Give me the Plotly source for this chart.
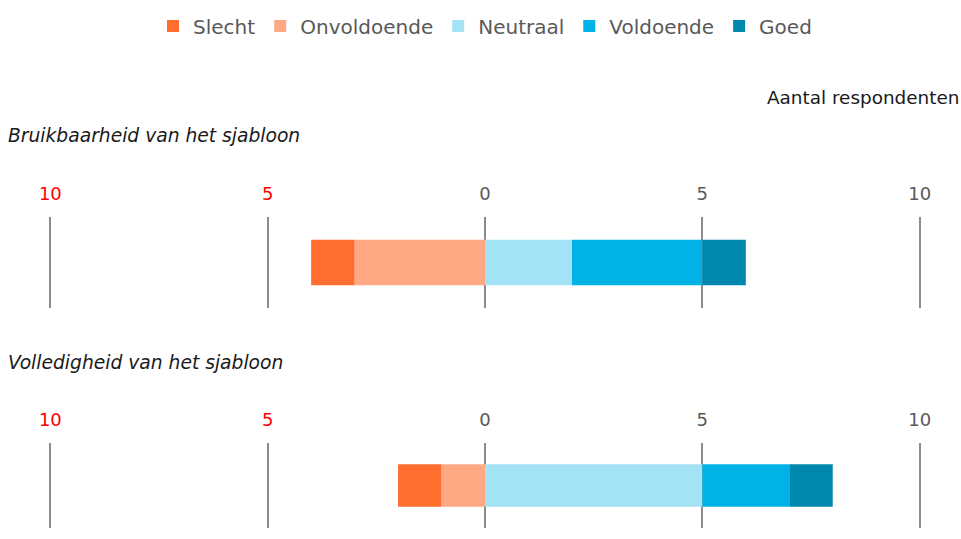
import plotly.graph_objects as go
from plotly.subplots import make_subplots

# data
questions = ["Bruikbaarheid van het sjabloon", "Volledigheid van het sjabloon"]
slecht = [1, 1]
onvoldoende = [3, 1]
neutraal = [2, 5]
voldoende = [3, 2]
goed = [1, 1]

tick_vals = [-10, -5, 0, 5, 10]
tick_text = ['<span style="color:#ff0000">10</span>', '<span style="color:#ff0000">5</span>', '0', '5', '10']

colors = {
    'Slecht': '#ff6d2f',
    'Onvoldoende': '#ffa884',
    'Neutraal': '#a4e3f5',
    'Voldoende': '#00b2e5',
    'Goed': '#0087ad',
}

FONT = 'Verdana, DejaVu Sans, sans-serif'
W, H = 961, 539
ML, MR = 46, 37

fig = make_subplots(rows=2, cols=1)

for i, q in enumerate(questions):
    row = i + 1
    # negative side: first trace sits next to zero
    series = [
        ('Onvoldoende', -onvoldoende[i], 2),
        ('Slecht', -slecht[i], 1),
        ('Neutraal', neutraal[i], 3),
        ('Voldoende', voldoende[i], 4),
        ('Goed', goed[i], 5),
    ]
    for name, val, rank in series:
        fig.add_trace(go.Bar(
            x=[val], y=[q], orientation='h', name=name,
            marker=dict(color=colors[name], line=dict(width=0)),
            width=0.5, legendrank=rank, legendgroup=name,
            showlegend=(i == 0), hoverinfo='skip',
        ), row=row, col=1)

fig.update_layout(
    width=W, height=H,
    barmode='relative',
    plot_bgcolor='white', paper_bgcolor='white',
    margin=dict(l=ML, r=MR, t=0, b=0, autoexpand=False),
    font=dict(family=FONT, size=18, color='#595959'),
    legend=dict(orientation='h', x=0.5, xanchor='center', y=1 - 26 / H, yanchor='middle',
                font=dict(size=20, color='#595959'), traceorder='normal'),
)

fig.update_xaxes(
    range=[-10.1, 10.1], side='top', tickvals=tick_vals, ticktext=tick_text,
    showgrid=True, gridcolor='#8c8c8c', gridwidth=2,
    zeroline=True, zerolinecolor='#8c8c8c', zerolinewidth=2,
    showline=False, ticks='outside', ticklen=9, tickcolor='rgba(0,0,0,0)',
    tickfont=dict(size=18, color='#595959'), fixedrange=True, automargin=False,
)
fig.update_yaxes(visible=False, range=[-0.5, 0.5], automargin=False)
fig.update_layout(
    yaxis=dict(domain=[1 - 308 / H, 1 - 217 / H]),
    yaxis2=dict(domain=[1 - 528 / H, 1 - 443 / H]),
)


def px(x):
    return (x - ML) / (W - ML - MR)


fig.add_annotation(text='Aantal respondenten', xref='paper', yref='paper', x=px(961), y=1 - 97 / H,
                   xanchor='right', yanchor='middle', showarrow=False,
                   font=dict(family=FONT, size=18.4, color='#1a1a1a'))
title_y = [1 - 136 / H, 1 - 362 / H]
for q, ty in zip(questions, title_y):
    fig.add_annotation(text='<i>' + q + '</i>', xref='paper', yref='paper', x=px(6), y=ty,
                       xanchor='left', yanchor='middle', showarrow=False,
                       font=dict(family=FONT, size=18.7, color='#1a1a1a'))

fig.write_html("out.html", config={'displayModeBar': False},
               post_script="document.body.style.margin='0';")
